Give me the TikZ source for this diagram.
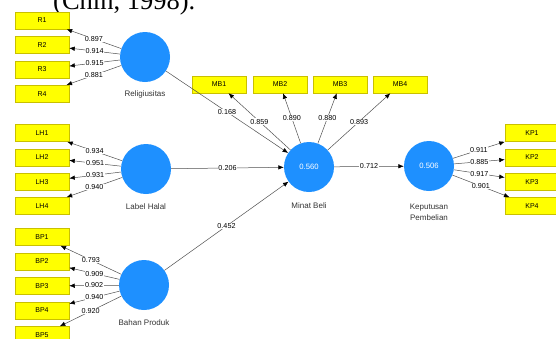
\documentclass[tikz,border=0pt]{standalone}
\usepackage{fontspec}
\setmainfont{Liberation Sans}
\newfontfamily\capserif{Liberation Serif}
\usetikzlibrary{arrows.meta}
\definecolor{lvblue}{HTML}{1E90FF}
\definecolor{indyellow}{HTML}{FFFF00}
\definecolor{indedge}{HTML}{C9C000}
\definecolor{pathgray}{HTML}{505050}
\tikzset{
  latent/.style={circle, fill=lvblue, minimum size=50pt, inner sep=0pt,
    text=white, font=\fontsize{7.7}{9}\selectfont},
  indic/.style={rectangle, fill=indyellow, draw=indedge, line width=0.5pt,
    minimum width=54pt, minimum height=17pt, inner sep=0pt,
    font=\fontsize{7}{8}\selectfont},
  lvname/.style={font=\fontsize{8}{10.6}\selectfont, align=center, text=black!80},
  coef/.style={fill=white, inner sep=0.6pt, font=\fontsize{7.2}{8}\selectfont},
  path/.style={draw=pathgray, line width=0.5pt,
    -{Latex[length=5.5pt,width=4.5pt,color=black]}}
}
\begin{document}
\begin{tikzpicture}[x=1pt, y=-1pt]
    \useasboundingbox (0,0) rectangle (556,338);
    % cut-off caption line of the page above
    \node[anchor=base west, inner sep=0pt, font=\capserif\fontsize{26.5}{30}\selectfont] (cite) at (53,9) {(Chin, 1998).};
    % latent variables
    \node[latent] (rel) at (145,57) {};
    \node[latent] (lh) at (146,169) {};
    \node[latent] (bp) at (144,285) {};
    \node[latent] (mb) at (309,167) {0.560};
    \node[latent] (kp) at (429,166) {0.506};
    \node[lvname] (relname) at (145,94) {Religiusitas};
    \node[lvname] (lhname) at (146,207) {Label Halal};
    \node[lvname] (bpname) at (144,323) {Bahan Produk};
    \node[lvname] (mbname) at (309,206) {Minat Beli};
    \node[lvname] (kpname) at (429,212) {Keputusan\\Pembelian};
    % outer loadings
    \foreach \i/\v in {1/0.897,2/0.914,3/0.915,4/0.881} {
        \node[indic] (r\i) at (42,{20.5+24.4*(\i-1)}) {R\i};
        \draw[path] (rel) -- node[coef] {\v} (r\i);
    }
    \foreach \i/\v in {1/0.934,2/0.951,3/0.931,4/0.940} {
        \node[indic] (lh\i) at (42,{133+24.3*(\i-1)}) {LH\i};
        \draw[path] (lh) -- node[coef] {\v} (lh\i);
    }
    \foreach \i/\v in {1/0.793,2/0.909,3/0.902,4/0.940,5/0.920} {
        \node[indic] (bp\i) at (42,{237+24.5*(\i-1)}) {BP\i};
        \draw[path] (bp) -- node[coef] {\v} (bp\i);
    }
    \foreach \i/\x/\v in {1/219/0.859,2/280/0.890,3/340/0.880,4/400/0.893} {
        \node[indic] (mb\i) at (\x,84.5) {MB\i};
        \draw[path] (mb) -- node[coef] {\v} (mb\i);
    }
    \foreach \i/\v in {1/0.911,2/0.885,3/0.917,4/0.901} {
        \node[indic] (kp\i) at (532,{133+24.3*(\i-1)}) {KP\i};
        \draw[path] (kp) -- node[coef] {\v} (kp\i);
    }
    % inner model
    \draw[path] (rel) -- node[coef] {0.168} (mb);
    \draw[path] (lh) -- node[coef] {0.206} (mb);
    \draw[path] (bp) -- node[coef] {0.452} (mb);
    \draw[path] (mb) -- node[coef] {0.712} (kp);
\end{tikzpicture}
\end{document}
